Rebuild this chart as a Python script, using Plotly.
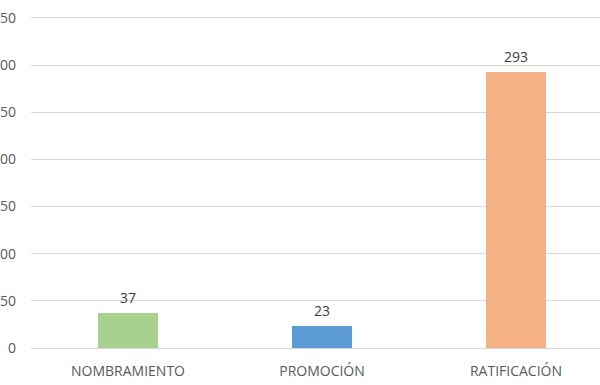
import plotly.graph_objects as go

categories = ["NOMBRAMIENTO", "PROMOCIÓN", "RATIFICACIÓN"]
values = [37, 23, 293]
colors = ["#A9D18E", "#5B9BD5", "#F4B183"]
y_ticks = [0, 50, 100, 150, 200, 250, 300, 350]

font_family = "Open Sans, Noto Sans, sans-serif"

fig = go.Figure(
    go.Bar(
        x=categories,
        y=values,
        marker=dict(color=colors, line=dict(width=0)),
        width=0.314,
        hoverinfo="x+y",
    )
)

for c, v in zip(categories, values):
    fig.add_annotation(
        x=c, y=v, text=str(v), showarrow=False,
        yanchor="bottom", yshift=4,
        font=dict(family=font_family, size=14, color="#404040"),
    )

fig.update_layout(
    width=600,
    height=385,
    margin=dict(l=31, r=0, t=8, b=37),
    paper_bgcolor="white",
    plot_bgcolor="white",
    showlegend=False,
    bargap=0,
)
fig.update_xaxes(
    type="category",
    range=[-0.5, 2.433],
    showgrid=False,
    showline=False,
    zeroline=False,
    automargin=False,
    ticks="",
    ticklabelstandoff=13,
    tickfont=dict(family=font_family, size=14, color="#595959"),
)
fig.update_yaxes(
    range=[0, 360.6],
    tickvals=y_ticks,
    showgrid=True,
    gridcolor="#D9D9D9",
    gridwidth=1,
    zeroline=True,
    zerolinecolor="#D9D9D9",
    zerolinewidth=1,
    showline=False,
    automargin=False,
    ticks="",
    ticklabelstandoff=14,
    tickfont=dict(family=font_family, size=14, color="#595959"),
)

fig.write_html(
    "out.html",
    config={"displayModeBar": False},
    post_script="document.body.style.margin='0';",
)
